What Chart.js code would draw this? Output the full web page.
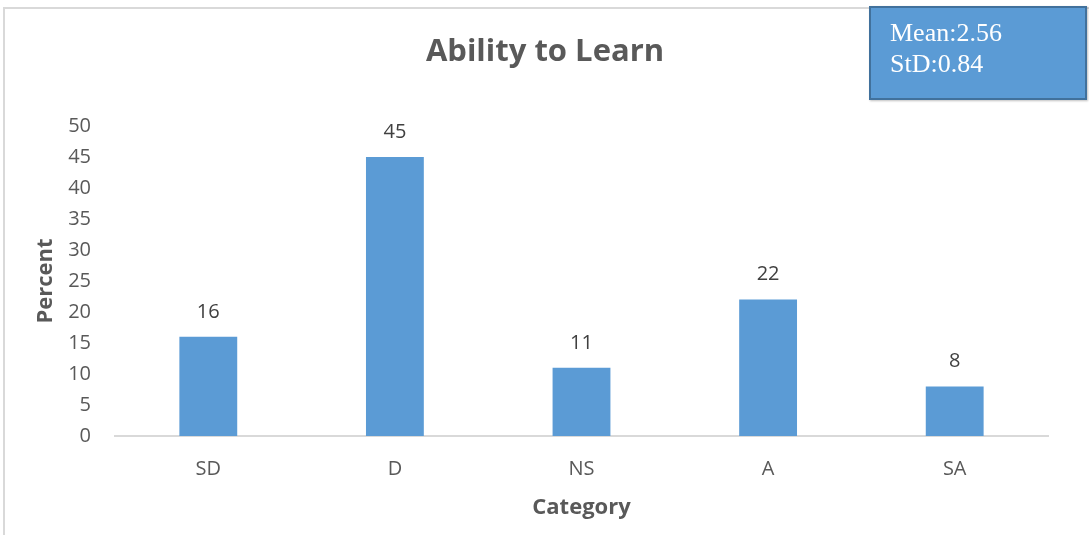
<!DOCTYPE html>
<html>
<head>
<meta charset="utf-8">
<script src="https://cdn.jsdelivr.net/npm/chart.js@4/dist/chart.umd.min.js"></script>
<style>
  html, body { margin: 0; padding: 0; background: #fff; }
  #wrap { position: relative; width: 1089px; height: 535px; overflow: hidden; }
  #frame { position: absolute; left: 3px; top: 7px; width: 1100px; height: 600px; border: 2px solid #d9d9d9; box-sizing: border-box; }
  #box {
    position: absolute; left: 869px; top: 6px; width: 218px; height: 94px;
    background: #5b9bd5; border: 2px solid #41719c; box-sizing: border-box;
    color: #fff; font-family: "Liberation Serif", serif; font-size: 26px; line-height: 31px;
    padding: 9px 0 0 19px;
    box-shadow: 1px 1px 2px rgba(0,0,0,0.25);
  }
  canvas { position: absolute; left: 0; top: 0; }
</style>
</head>
<body>
<div id="wrap">
  <div id="frame"></div>
  <canvas id="chart" width="1089" height="535"></canvas>
  <div id="box">Mean:2.56<br>StD:0.84</div>
</div>
<script>
// Chart data
const categories = ["SD", "D", "NS", "A", "SA"];
const percents = [16, 45, 11, 22, 8];
const yTicks = [0, 5, 10, 15, 20, 25, 30, 35, 40, 45, 50];

const fontFamily = "'Open Sans', sans-serif";
const textColor = "#595959";

// Title and value labels drawn on the canvas
const labelPlugin = {
  id: "labels",
  afterDatasetsDraw(chart) {
    const ctx = chart.ctx;
    const meta = chart.getDatasetMeta(0);
    ctx.save();
    ctx.fillStyle = "#404040";
    ctx.font = "20px " + fontFamily;
    ctx.textAlign = "center";
    ctx.textBaseline = "middle";
    meta.data.forEach((bar, i) => {
      ctx.fillText(percents[i], bar.x, bar.y - 25);
    });
    ctx.fillStyle = textColor;
    ctx.font = "bold 31px " + fontFamily;
    ctx.fillText("Ability to Learn", 545, 52);
    ctx.restore();
  },
};

const ctx = document.getElementById("chart");
new Chart(ctx, {
  type: "bar",
  data: {
    labels: categories,
    datasets: [
      {
        data: percents,
        backgroundColor: "#5b9bd5",
        categoryPercentage: 0.31,
        barPercentage: 1,
      },
    ],
  },
  options: {
    responsive: false,
    animation: false,
    devicePixelRatio: 1,
    layout: { padding: { top: 126, right: 41, left: 33, bottom: 0 } },
    plugins: {
      legend: { display: false },
      tooltip: { enabled: false },
    },
    scales: {
      x: {
        grid: { display: false },
        border: { display: true, color: "#d9d9d9", width: 2 },
        ticks: { color: textColor, font: { family: fontFamily, size: 20 }, padding: 13 },
        title: {
          display: true,
          text: "Category",
          color: textColor,
          font: { family: fontFamily, size: 22, weight: "bold" },
          padding: { top: 0, bottom: 14 },
        },
        afterFit(scale) {
          scale.height = 535 - 436;
        },
      },
      y: {
        min: 0,
        max: 50,
        afterBuildTicks(scale) {
          scale.ticks = yTicks.map((v) => ({ value: v }));
        },
        grid: { display: false },
        border: { display: false },
        ticks: { color: textColor, font: { family: fontFamily, size: 20 }, padding: 16 },
        title: {
          display: true,
          text: "Percent",
          color: textColor,
          font: { family: fontFamily, size: 22, weight: "bold" },
          padding: { top: 0, bottom: 4 },
        },
        afterFit(scale) {
          scale.width = 115 - 33;
        },
      },
    },
  },
  plugins: [labelPlugin],
});
</script>
</body>
</html>
